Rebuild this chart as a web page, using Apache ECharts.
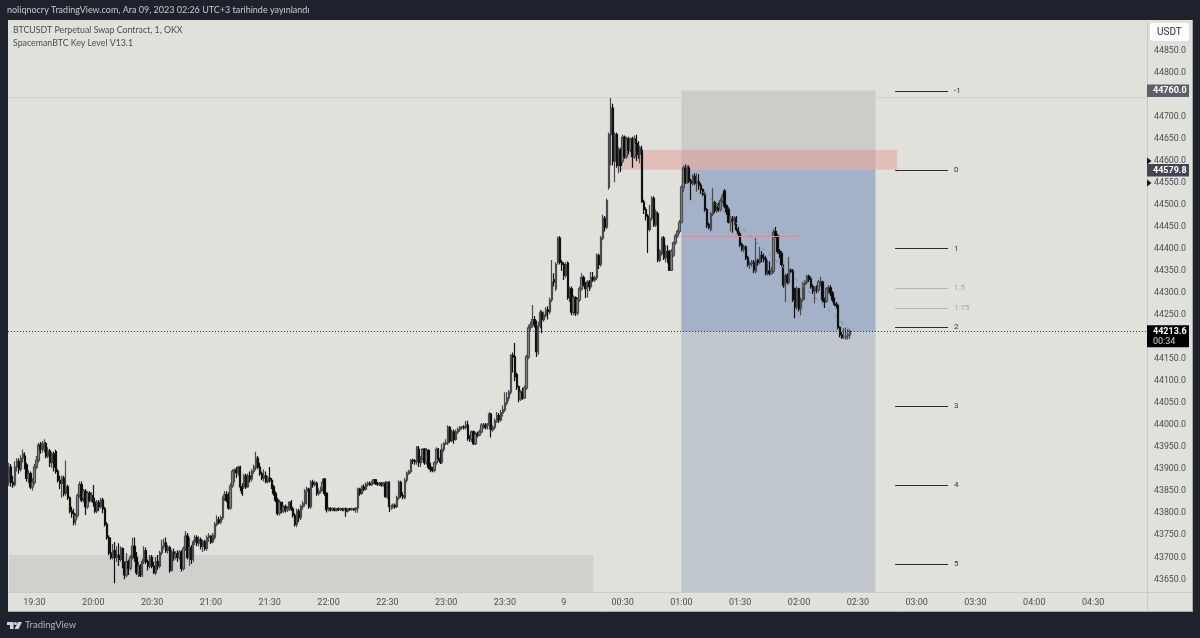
<!DOCTYPE html>
<html>
<head>
<meta charset="utf-8">
<title>BTCUSDT</title>
<script src="https://cdn.jsdelivr.net/npm/echarts@6/dist/echarts.min.js"></script>
<style>
html, body { margin: 0; padding: 0; background: #1e222d; }
#chart_main { width: 1200px; height: 638px; }
</style>
</head>
<body>
<div id="chart_main"></div>
<script>
// every candle is [open, close, low, high], one block per half hour
var candles1917 = [
[43870,43905,43862,43915],[43905,43870,43860,43912],[43870,43865,43858,43885],[43865,43905,43860,43918],[43905,43918,43895,43925],
[43918,43900,43890,43925],[43900,43925,43895,43932],[43925,43935,43915,43945],[43930,43910,43900,43938],[43910,43880,43872,43915],
[43880,43890,43868,43898],[43890,43860,43855,43895],[43860,43870,43852,43880],[43870,43905,43865,43912],[43905,43920,43900,43930],
[43920,43955,43915,43960],[43955,43945,43935,43962],[43945,43958,43938,43964],[43945,43958,43938,43968],[43958,43930,43925,43962],
[43930,43942,43925,43950],[43942,43915,43905,43946],[43915,43935,43903,43940],[43935,43905,43895,43940],[43940,43895,43890,43944],
[43895,43875,43870,43900],[43875,43868,43855,43885],[43868,43880,43835,43885],[43880,43845,43838,43885],[43845,43860,43840,43920],
[43860,43835,43830,43865],[43835,43805,43800,43838],[43805,43800,43790,43815],[43800,43780,43773,43810],[43785,43795,43773,43800],
[43795,43840,43790,43845],[43840,43865,43835,43872],[43865,43830,43825,43872],[43835,43850,43825,43855],[43850,43815,43796,43855],
[43815,43845,43810,43850],[43845,43830,43825,43850],[43830,43840,43825,43848]
];
var candles2000 = [
[43840,43825,43815,43864],[43825,43805,43800,43835],[43805,43825,43800,43830],[43825,43815,43805,43830],[43815,43830,43810,43835],
[43830,43810,43800,43835],[43810,43775,43770,43815],[43775,43745,43740,43780],[43745,43710,43705,43750],[43710,43700,43695,43745],
[43700,43715,43695,43730],[43715,43700,43641,43735],[43700,43705,43690,43725],[43705,43695,43680,43732],[43695,43720,43690,43725],
[43720,43680,43675,43722],[43680,43660,43650,43690],[43660,43690,43655,43710],[43690,43675,43660,43695],[43675,43700,43670,43705],
[43700,43725,43695,43745],[43725,43700,43690,43745],[43700,43665,43660,43712],[43665,43680,43655,43690],[43680,43658,43655,43685],
[43660,43690,43655,43697],[43690,43715,43685,43725],[43715,43690,43685,43722],[43690,43680,43670,43695],[43680,43700,43675,43705]
];
var candles2030 = [
[43700,43680,43675,43705],[43680,43665,43662,43690],[43665,43690,43660,43700],[43690,43680,43672,43705],[43680,43710,43675,43715],
[43710,43725,43705,43740],[43725,43733,43718,43742],[43733,43715,43710,43745],[43715,43722,43708,43728],[43722,43670,43665,43726],
[43670,43712,43668,43718],[43712,43700,43692,43720],[43700,43708,43695,43714],[43708,43700,43690,43716],[43700,43712,43695,43716],
[43712,43675,43668,43716],[43675,43720,43670,43725],[43720,43748,43715,43760],[43748,43700,43695,43755],[43700,43722,43680,43745],
[43722,43695,43685,43728],[43695,43735,43690,43740],[43735,43745,43728,43750],[43745,43733,43725,43750],[43733,43740,43725,43748],
[43740,43725,43718,43745],[43725,43735,43712,43740],[43735,43720,43715,43740],[43720,43745,43715,43750],[43745,43748,43735,43755]
];
var candles2100 = [
[43748,43735,43730,43750],[43735,43750,43732,43755],[43745,43775,43740,43780],[43775,43785,43770,43795],[43785,43780,43775,43792],
[43780,43790,43775,43795],[43790,43835,43785,43838],[43835,43842,43828,43850],[43842,43830,43825,43850],[43830,43812,43808,43848],
[43812,43862,43808,43868],[43862,43895,43858,43900],[43895,43898,43870,43902],[43898,43892,43880,43905],[43892,43905,43885,43908],
[43905,43860,43850,43908],[43860,43845,43840,43868],[43860,43885,43855,43890],[43885,43860,43855,43890],[43860,43885,43858,43890],
[43885,43878,43870,43895],[43878,43895,43872,43900],[43895,43905,43890,43910],[43905,43925,43898,43940],[43925,43905,43900,43930],
[43905,43890,43885,43915],[43890,43880,43875,43895],[43880,43885,43872,43900],[43885,43872,43868,43895],[43872,43880,43868,43885]
];
var candles2130 = [
[43880,43875,43870,43905],[43875,43860,43855,43880],[43860,43845,43840,43865],[43845,43830,43825,43850],[43830,43800,43795,43835],
[43800,43825,43795,43830],[43825,43810,43800,43825],[43805,43815,43800,43818],[43815,43808,43802,43820],[43808,43810,43803,43816],
[43810,43825,43805,43828],[43825,43810,43805,43830],[43810,43795,43790,43815],[43795,43775,43770,43800],[43775,43805,43768,43810],
[43805,43790,43780,43810],[43790,43815,43785,43820],[43815,43822,43808,43828],[43822,43850,43815,43855],[43850,43855,43820,43860],
[43855,43815,43810,43858],[43815,43870,43810,43875],[43870,43865,43858,43876],[43865,43868,43860,43874],[43868,43845,43840,43872],
[43845,43850,43840,43856],[43850,43855,43845,43860],[43855,43870,43850,43878],[43878,43845,43840,43880],[43845,43808,43802,43848]
];
var candles2200 = [
[43808,43810,43804,43815],[43810,43808,43804,43814],[43808,43810,43805,43813],[43810,43807,43804,43813],[43807,43810,43804,43812],
[43810,43808,43805,43813],[43808,43810,43805,43813],[43810,43808,43805,43812],[43808,43810,43804,43813],[43810,43805,43792,43813],
[43805,43810,43802,43812],[43810,43809,43806,43812],[43809,43810,43806,43813],[43810,43808,43805,43812],[43808,43812,43801,43814],
[43812,43855,43801,43858],[43855,43845,43840,43858],[43845,43860,43842,43863],[43860,43855,43850,43866],[43855,43866,43852,43870],
[43866,43868,43860,43872],[43868,43865,43862,43872],[43865,43870,43862,43874],[43870,43876,43866,43878],[43876,43868,43864,43878],
[43868,43866,43862,43871],[43866,43868,43862,43871],[43868,43864,43860,43871],[43864,43868,43860,43871],[43868,43838,43835,43873]
];
var candles2230 = [
[43838,43870,43833,43873],[43870,43815,43803,43873],[43815,43815,43808,43820],[43815,43818,43810,43822],[43818,43815,43810,43822],
[43815,43835,43812,43840],[43835,43870,43830,43875],[43870,43840,43835,43874],[43840,43838,43832,43848],[43835,43875,43832,43880],
[43875,43891,43870,43895],[43891,43895,43887,43899],[43895,43920,43890,43923],[43920,43919,43912,43924],[43919,43917,43910,43923],
[43917,43950,43910,43953],[43945,43915,43905,43953],[43915,43925,43905,43930],[43925,43945,43920,43948],[43945,43915,43910,43948],
[43915,43943,43910,43948],[43943,43905,43900,43945],[43905,43900,43893,43915],[43900,43898,43893,43905],[43898,43915,43893,43918],
[43915,43945,43910,43950],[43945,43925,43918,43948],[43925,43916,43912,43945],[43916,43945,43912,43958],[43945,43958,43940,43962]
];
var candles2300 = [
[43958,43960,43955,43968],[43960,43995,43955,44000],[43995,43965,43960,43998],[43965,43985,43962,43990],[43985,43968,43958,43990],
[43968,43985,43965,43990],[43985,43990,43980,43995],[43990,43995,43985,43998],[43995,43996,43990,43999],[43996,43995,43990,44000],
[43995,44000,43990,44010],[44000,43970,43965,44010],[43970,43968,43962,43978],[43968,43985,43962,43988],[43985,43958,43955,43988],
[43958,43980,43955,43985],[43980,43978,43972,43985],[43978,43985,43975,43990],[43985,44000,43982,44005],[44000,44000,43992,44005],
[44000,43995,43990,44005],[43995,44000,43990,44005],[44000,44025,43990,44030],[44025,43990,43972,44028],[43990,43995,43985,44000],
[43995,44010,43990,44015],[44010,44022,44005,44030],[44022,44012,44005,44028],[44012,44028,44008,44035],[44028,44035,44020,44045]
];
var candles2330 = [
[44035,44050,44030,44075],[44050,44062,44045,44075],[44062,44075,44055,44080],[44075,44158,44070,44162],[44158,44155,44120,44165],
[44155,44110,44100,44187],[44115,44087,44080,44120],[44087,44060,44052,44090],[44060,44075,44055,44080],[44075,44062,44058,44085],
[44062,44085,44060,44090],[44085,44155,44080,44160],[44155,44221,44150,44228],[44222,44228,44215,44235],[44228,44240,44222,44273],
[44240,44230,44222,44248],[44232,44167,44155,44238],[44167,44225,44160,44235],[44225,44255,44220,44262],[44255,44240,44209,44260],
[44240,44250,44235,44258],[44250,44262,44245,44268],[44262,44258,44240,44270],[44258,44284,44252,44290],[44285,44325,44280,44375],
[44330,44325,44315,44345],[44310,44365,44305,44370],[44370,44425,44365,44428],[44425,44370,44365,44430],[44370,44365,44350,44375]
];
var candles0000 = [
[44365,44340,44330,44370],[44340,44365,44335,44370],[44368,44290,44285,44372],[44290,44310,44280,44315],[44310,44257,44250,44315],
[44257,44290,44250,44295],[44290,44255,44248,44293],[44255,44285,44250,44290],[44285,44310,44280,44315],[44310,44335,44305,44345],
[44335,44320,44315,44340],[44320,44310,44289,44325],[44310,44325,44290,44330],[44325,44315,44305,44330],[44315,44335,44310,44348],
[44335,44330,44325,44348],[44330,44335,44325,44340],[44335,44385,44330,44390],[44385,44365,44355,44390],[44365,44425,44360,44430],
[44425,44470,44420,44478],[44470,44450,44440,44475],[44450,44510,44445,44515],[44540,44660,44535,44665],[44660,44720,44590,44745],
[44720,44600,44590,44730],[44600,44660,44552,44665],[44660,44590,44585,44665],[44590,44625,44572,44632],[44625,44590,44575,44630]
];
var candles0030 = [
[44600,44654,44595,44660],[44654,44610,44605,44658],[44610,44650,44605,44655],[44650,44625,44615,44655],[44625,44650,44620,44653],
[44650,44610,44585,44655],[44610,44650,44605,44658],[44650,44640,44600,44660],[44640,44615,44605,44645],[44615,44630,44595,44635],
[44625,44507,44505,44635],[44507,44490,44480,44512],[44490,44475,44465,44495],[44475,44445,44391,44480],[44445,44470,44440,44500],
[44470,44515,44465,44520],[44515,44455,44450,44520],[44455,44484,44450,44490],[44480,44375,44370,44485],[44375,44395,44370,44400],
[44390,44425,44385,44428],[44425,44380,44375,44430],[44380,44395,44370,44410],[44395,44375,44368,44408],[44393,44352,44350,44398],
[44352,44395,44350,44400],[44387,44414,44382,44418],[44414,44430,44410,44435],[44430,44440,44425,44445],[44440,44461,44435,44466]
];
var candles0100 = [
[44461,44541,44458,44545],[44540,44584,44530,44590],[44584,44552,44548,44592],[44552,44584,44548,44590],[44584,44555,44550,44590],
[44555,44550,44511,44560],[44550,44565,44545,44570],[44565,44550,44545,44572],[44550,44553,44530,44572],[44553,44545,44535,44570],
[44545,44535,44525,44550],[44535,44525,44520,44538],[44525,44490,44485,44530],[44490,44455,44448,44493],[44455,44450,44445,44460],
[44445,44480,44440,44485],[44480,44505,44475,44538],[44505,44488,44482,44510],[44488,44500,44482,44505],[44500,44490,44484,44506],
[44490,44510,44485,44515],[44510,44520,44505,44526],[44532,44498,44492,44536],[44498,44485,44478,44502],[44490,44462,44458,44495],
[44462,44470,44440,44475],[44470,44465,44437,44475],[44465,44470,44455,44475],[44470,44445,44440,44475],[44445,44435,44430,44450]
];
var candles0130 = [
[44435,44410,44405,44440],[44410,44400,44395,44415],[44400,44405,44392,44410],[44405,44380,44375,44408],[44380,44365,44360,44385],
[44365,44368,44355,44372],[44368,44370,44360,44375],[44370,44352,44345,44375],[44350,44372,44345,44425],[44375,44370,44362,44378],
[44370,44385,44365,44405],[44385,44380,44370,44395],[44380,44378,44370,44390],[44378,44345,44340,44385],[44345,44350,44340,44375],
[44350,44345,44340,44372],[44345,44350,44342,44360],[44350,44438,44345,44445],[44440,44430,44425,44450],[44430,44395,44390,44435],
[44395,44390,44380,44400],[44390,44365,44360,44395],[44360,44318,44312,44365],[44318,44340,44280,44345],[44340,44325,44320,44345],
[44325,44352,44320,44382],[44352,44350,44345,44356],[44350,44285,44280,44355],[44310,44268,44243,44312],[44268,44310,44262,44315]
];
var candles0200 = [
[44310,44265,44258,44312],[44265,44285,44250,44290],[44285,44320,44280,44325],[44320,44325,44285,44330],[44325,44338,44320,44342],
[44338,44332,44325,44342],[44332,44315,44310,44338],[44315,44305,44298,44320],[44305,44312,44277,44316],[44312,44308,44300,44318],
[44308,44325,44302,44330],[44325,44325,44315,44337],[44325,44285,44280,44328],[44285,44280,44266,44290],[44282,44310,44278,44314],
[44310,44312,44300,44318],[44312,44300,44293,44318],[44300,44285,44280,44305],[44285,44275,44270,44290],[44275,44272,44265,44280],
[44272,44222,44218,44276],[44222,44205,44200,44225],[44205,44200,44196,44212],[44200,44200,44196,44220],[44200,44203,44194,44222],
[44203,44205,44194,44218],[44205,44213.6,44196,44218]
];

var priceTicks = [43650,43700,43750,43800,43850,43900,43950,44000,44050,44100,44150,44200,44250,44300,44350,44400,44450,44500,44550,44600,44650,44700,44750,44800,44850];
var timeTicks = ['19:30','20:00','20:30','21:00','21:30','22:00','22:30','23:00','23:30','00:00','00:30','01:00','01:30','02:00','02:30','03:00','03:30','04:00','04:30'];

var fibLabels = ['-1','0','1','1.5','1.75','2','3','4','5'];
var fibPrices = [44759,44580,44401,44311.5,44266.75,44222,44043,43864,43685];

var tagLabels = ['44760.0','44579.8','44213.6'];
var tagPrices = [44760,44579.8,44213.6];
var tagColors = ['#5d606b','#434651','#000000'];
var alertPrices = [44600,44550];

var timeLabels = [];
for (var t = 0; t < 581; t++) {
    var m = (19 * 60 + 17 + t) % 1440;
    timeLabels.push(('0' + Math.floor(m / 60)).slice(-2) + ':' + ('0' + (m % 60)).slice(-2));
}

var allCandles = [].concat(candles1917, candles2000, candles2030, candles2100, candles2130, candles2200,
    candles2230, candles2300, candles2330, candles0000, candles0030, candles0100, candles0130, candles0200);

var FONT = 'Roboto, sans-serif';
var HEAD_FONT = 'Lato, sans-serif';
var lastPrice = tagPrices[2];

function fibLine(i) {
    var muted = fibLabels[i] === '1.5' || fibLabels[i] === '1.75';
    return [{
        xAxis: '02:49', yAxis: fibPrices[i],
        lineStyle: { color: muted ? '#b4b5b0' : '#2a2e33', width: 1, type: 'solid' },
        label: { show: true, position: 'end', formatter: fibLabels[i], color: muted ? '#a8a9a5' : '#33363c', fontSize: 8, fontFamily: FONT, distance: 6 }
    }, { xAxis: '03:16', yAxis: fibPrices[i] }];
}

var markLines = [
    { yAxis: 44746, lineStyle: { color: '#d0d1cb', width: 1, type: 'solid' }, label: { show: false } },
    { yAxis: lastPrice, lineStyle: { color: 'rgba(0,0,0,0.75)', width: 1, type: [1, 2] }, label: { show: false } },
    [{ xAxis: '01:00', yAxis: 44430, lineStyle: { color: '#d68c9d', width: 1, type: 'solid' }, label: { show: false } }, { xAxis: '02:00', yAxis: 44430 }],
    [{ xAxis: '01:11', yAxis: 44530, lineStyle: { color: '#7f8796', width: 1, type: [4, 5] }, label: { show: false } }, { xAxis: '02:26', yAxis: 44216 }]
];
fibLabels.forEach(function (label, i) {
    markLines.push(fibLine(i));
});

function renderTag(params, api) {
    var i = params.dataIndex;
    var y = api.coord([0, tagPrices[i]])[1];
    var right = params.coordSys.x + params.coordSys.width;
    var isLast = i === 2;
    var children = [{
        type: 'rect',
        shape: { x: right, y: y - 6, width: 42, height: isLast ? 22 : 12.5 },
        style: { fill: tagColors[i] }
    }, {
        type: 'text',
        style: { x: right + 6, y: y + 0.5, text: tagLabels[i], fill: '#fff', font: 'bold 9px ' + FONT, textAlign: 'left', textVerticalAlign: 'middle' }
    }];
    if (isLast) {
        children.push({
            type: 'text',
            style: { x: right + 6, y: y + 11, text: '00:34', fill: '#d1d4dc', font: '9px ' + FONT, textAlign: 'left', textVerticalAlign: 'middle' }
        });
    }
    return { type: 'group', children: children };
}

function renderAlert(params, api) {
    var y = api.coord([0, alertPrices[params.dataIndex]])[1];
    var right = params.coordSys.x + params.coordSys.width;
    return {
        type: 'polygon',
        shape: { points: [[right, y - 3.5], [right + 4.5, y], [right, y + 3.5]] },
        style: { fill: '#131722' }
    };
}

var myChart = echarts.init(document.getElementById('chart_main'));
var option = {
    animation: false,
    backgroundColor: '#1e222d',
    textStyle: { fontFamily: FONT },
    graphic: [
        { type: 'rect', z: -10, silent: true, shape: { x: 8, y: 20, width: 1184.5, height: 592 }, style: { fill: '#e0e1da' } },
        { type: 'line', z: 1, silent: true, shape: { x1: 8, y1: 611.5, x2: 1192.5, y2: 611.5 }, style: { stroke: '#a9aba8', lineWidth: 1 } },
        { type: 'line', z: 1, silent: true, shape: { x1: 1192.5, y1: 20, x2: 1192.5, y2: 612 }, style: { stroke: '#a9aba8', lineWidth: 1 } },
        { type: 'line', z: 1, silent: true, shape: { x1: 1147.5, y1: 21, x2: 1147.5, y2: 611 }, style: { stroke: '#c9cac4', lineWidth: 1 } },
        { type: 'line', z: 1, silent: true, shape: { x1: 8, y1: 592.5, x2: 1192, y2: 592.5 }, style: { stroke: '#cbccc6', lineWidth: 1 } },
        { type: 'rect', z: 3, silent: true, shape: { x: 1150, y: 23, width: 39, height: 18, r: 3 }, style: { fill: '#ffffff' } },
        { type: 'text', z: 4, silent: true, style: { x: 1157, y: 32, text: 'USDT', fill: '#2a2e39', font: '10px ' + FONT, textVerticalAlign: 'middle' } },
        { type: 'text', silent: true, style: { x: 7, y: 10, text: 'noliqnocry TradingView.com, Ara 09, 2023 02:26 UTC+3 tarihinde yayınlandı', fill: '#c8cad0', font: '9px ' + HEAD_FONT, textVerticalAlign: 'middle' } },
        { type: 'text', silent: true, style: { x: 13, y: 30.5, text: 'BTCUSDT Perpetual Swap Contract, 1, OKX', fill: '#4a4d55', font: '8.8px ' + HEAD_FONT, textVerticalAlign: 'middle' } },
        { type: 'text', silent: true, style: { x: 13, y: 43.5, text: 'SpacemanBTC Key Level V13.1', fill: '#4a4d55', font: '8.8px ' + HEAD_FONT, textVerticalAlign: 'middle' } },
        { type: 'rect', silent: true, shape: { x: 7, y: 622, width: 6.5, height: 3 }, style: { fill: '#d1d4dc' } },
        { type: 'rect', silent: true, shape: { x: 10, y: 622, width: 3.5, height: 7 }, style: { fill: '#d1d4dc' } },
        { type: 'circle', silent: true, shape: { cx: 15.5, cy: 623.5, r: 1.5 }, style: { fill: '#d1d4dc' } },
        { type: 'polygon', silent: true, shape: { points: [[18, 622], [22, 622], [18.5, 629], [14.5, 629]] }, style: { fill: '#d1d4dc' } },
        { type: 'text', silent: true, style: { x: 25, y: 625, text: 'TradingView', fill: '#b2b5be', font: '9.5px ' + HEAD_FONT, textVerticalAlign: 'middle' } }
    ],
    grid: { left: 8, right: 53, top: 22, bottom: 46 },
    xAxis: {
        type: 'category',
        data: timeLabels,
        boundaryGap: true,
        axisLine: { show: false },
        axisTick: { show: false },
        splitLine: { show: false },
        axisLabel: {
            color: '#4a4d55',
            fontSize: 9,
            fontFamily: FONT,
            margin: 6,
            interval: function (index, value) {
                return timeTicks.indexOf(value) > -1;
            },
            formatter: function (value) {
                return value === '00:00' ? '9' : value;
            }
        }
    },
    yAxis: {
        type: 'value',
        position: 'right',
        min: 43621.2,
        max: 44915.8,
        scale: true,
        axisLine: { show: false },
        axisTick: { show: false },
        splitLine: { show: false },
        axisLabel: {
            customValues: priceTicks,
            color: '#4a4d55',
            fontSize: 8.8,
            fontFamily: FONT,
            margin: 7,
            padding: [2, 0, 0, 0],
            formatter: function (value) {
                return value.toFixed(1);
            }
        }
    },
    series: [{
        type: 'candlestick',
        data: allCandles,
        barWidth: 1.8,
        itemStyle: {
            color: '#8b8c8a',
            color0: '#000000',
            borderColor: '#4a4b4e',
            borderColor0: '#111111',
            borderWidth: 1.2
        },
        markArea: {
            silent: true,
            data: [
                [{ xAxis: '01:00', yAxis: 44760, itemStyle: { color: 'rgba(120,123,134,0.2)' } }, { xAxis: '02:39', yAxis: 44580 }],
                [{ xAxis: '01:00', yAxis: 44580, itemStyle: { color: 'rgba(0,50,150,0.27)' } }, { xAxis: '02:39', yAxis: lastPrice }],
                [{ xAxis: '01:00', yAxis: lastPrice, itemStyle: { color: 'rgba(0,50,130,0.14)' } }, { xAxis: '02:39', yAxis: 43621.2 }],
                [{ xAxis: '00:27', yAxis: 44625, itemStyle: { color: 'rgba(242,54,69,0.2)' } }, { xAxis: '02:50', yAxis: 44580 }],
                [{ xAxis: '19:17', yAxis: 43705, itemStyle: { color: 'rgba(120,123,134,0.15)' } }, { xAxis: '00:15', yAxis: 43621.2 }]
            ]
        },
        markLine: {
            silent: true,
            symbol: 'none',
            animation: false,
            data: markLines
        }
    }, {
        type: 'custom',
        z: 10,
        silent: true,
        clip: false,
        renderItem: renderAlert,
        data: alertPrices.map(function (p) { return [timeLabels[0], p]; })
    }, {
        type: 'custom',
        z: 11,
        silent: true,
        clip: false,
        renderItem: renderTag,
        data: tagPrices.map(function (p) { return [timeLabels[0], p]; })
    }]
};
myChart.setOption(option);
window.addEventListener('resize', function () {
    myChart.resize();
});
</script>
</body>
</html>
